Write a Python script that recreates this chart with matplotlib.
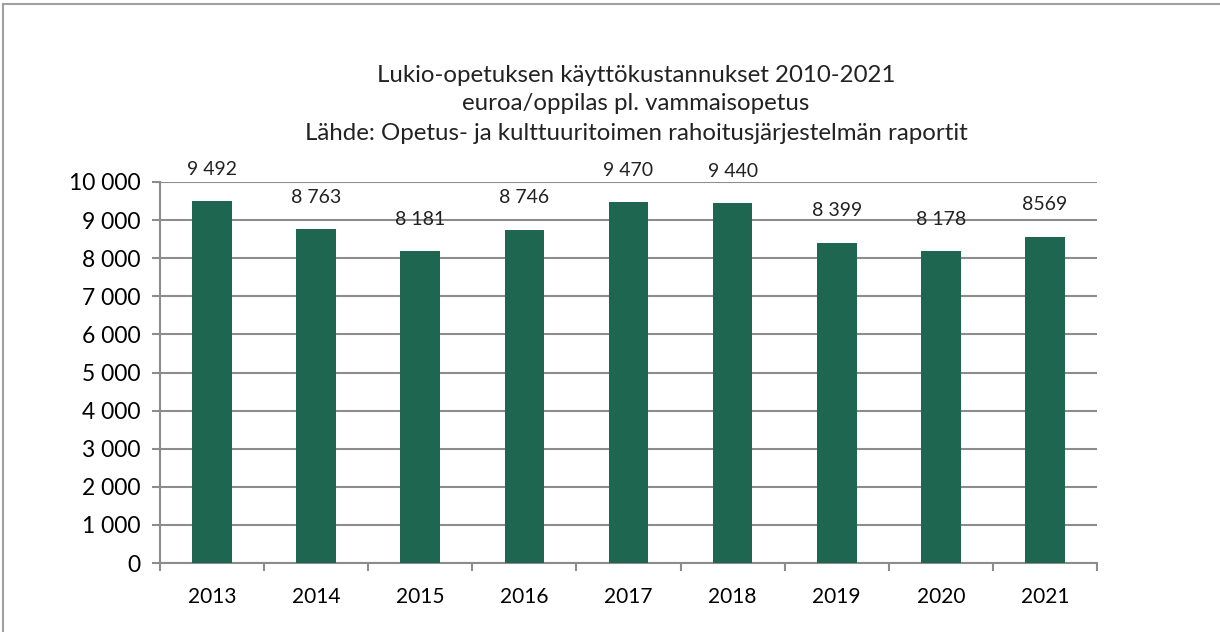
import matplotlib
matplotlib.use("Agg")
import matplotlib.pyplot as plt
from matplotlib.lines import Line2D
from matplotlib.ticker import FuncFormatter, FixedLocator
import numpy as np

# Data
years = ["2013", "2014", "2015", "2016", "2017", "2018", "2019", "2020", "2021"]
costs = [9492, 8763, 8181, 8746, 9470, 9440, 8399, 8178, 8569]
value_labels = ["9 492", "8 763", "8 181", "8 746", "9 470", "9 440", "8 399", "8 178", "8569"]
title_lines = [
    "Lukio-opetuksen käyttökustannukset 2010-2021",
    "euroa/oppilas pl. vammaisopetus",
    "Lähde: Opetus- ja kulttuuritoimen rahoitusjärjestelmän raportit",
]

plt.rcParams["font.family"] = ["Lato", "DejaVu Sans"]

fig = plt.figure(figsize=(12.2, 6.32), dpi=100)
ax = fig.add_axes([160 / 1220, 1 - 563 / 632, (1097 - 160) / 1220, (563 - 182) / 632])

# outer chart frame (only top and left edges are visible in the crop)
frame_c = "#a0a0a0"
fig.add_artist(Line2D([3 / 1220, 3 / 1220], [0, 1 - 4 / 632], transform=fig.transFigure,
                      color=frame_c, linewidth=1.5))
fig.add_artist(Line2D([3 / 1220, 1], [1 - 4 / 632, 1 - 4 / 632], transform=fig.transFigure,
                      color=frame_c, linewidth=1.5))

grid_c = "#8c8c8c"
x = np.arange(len(years))
bars = ax.bar(x, costs, width=0.38, color="#1f6650", zorder=3)

for rect, lab in zip(bars, value_labels):
    ax.annotate(lab, (rect.get_x() + rect.get_width() / 2, rect.get_height()),
                xytext=(0, 17), textcoords="offset points",
                ha="center", va="bottom", fontsize=14, color="#222222")

ax.set_xlim(-0.5, len(years) - 0.5)
ax.set_ylim(0, 10000)
ax.set_yticks(np.arange(0, 10001, 1000))
ax.yaxis.set_major_formatter(FuncFormatter(lambda v, p: f"{int(v):,}".replace(",", " ")))
ax.grid(axis="y", color=grid_c, linewidth=1.5, zorder=0)
ax.set_xticks(x)
ax.set_xticklabels(years)
ax.xaxis.set_minor_locator(FixedLocator(np.arange(-0.5, len(years), 1)))
ax.tick_params(axis="x", which="major", length=0, pad=17, labelsize=15)
ax.tick_params(axis="x", which="minor", length=6, width=1.5, color=grid_c)
ax.tick_params(axis="y", length=6, width=1.5, color=grid_c, labelsize=16.5, pad=8)

for s in ["top", "right"]:
    ax.spines[s].set_visible(False)
for s in ["left", "bottom"]:
    ax.spines[s].set_color(grid_c)
    ax.spines[s].set_linewidth(1.5)

for i, line in enumerate(title_lines):
    fig.text(636 / 1220, 1 - (75 + i * 29) / 632, line, ha="center", va="center",
             fontsize=17.3, color="#222222")

fig.savefig("out.png", dpi=100)
